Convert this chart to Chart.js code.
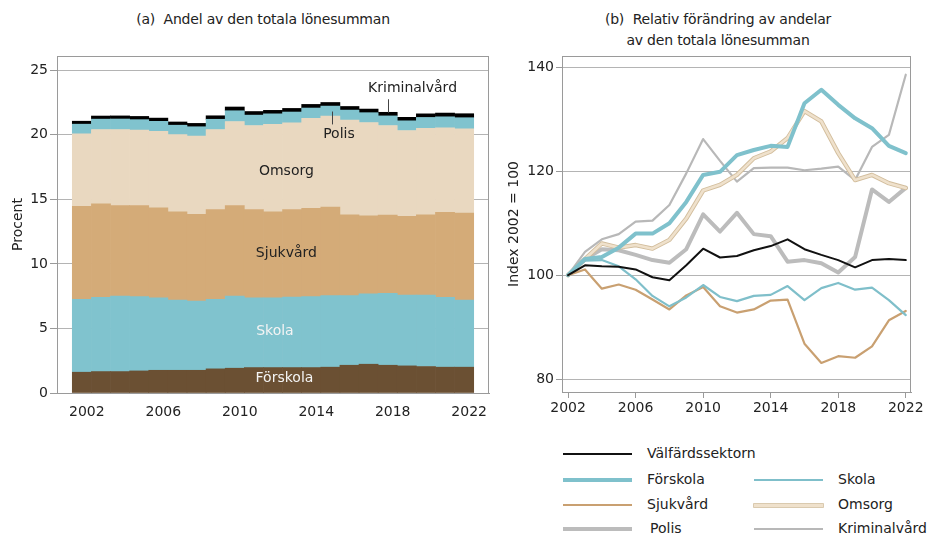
<!DOCTYPE html>
<html>
<head>
<meta charset="utf-8">
<script src="https://cdn.jsdelivr.net/npm/chart.js@4.4.1/dist/chart.umd.min.js"></script>
<style>
  body { margin: 0; background: #fff; font-family: "DejaVu Sans", Arial, sans-serif; color: #222; }
  #wrap { position: relative; width: 935px; height: 537px; overflow: hidden; }
  .title { position: absolute; font-size: 14px; text-align: center; line-height: 21px; white-space: nowrap; letter-spacing: -0.2px; }
  #boxA { position: absolute; left: 0; top: 0; width: 500px; height: 425px; }
  #boxB { position: absolute; left: 500px; top: 0; width: 435px; height: 425px; }
  .lg { position: absolute; font-size: 14px; white-space: nowrap; }
  .lg i { position: absolute; left: 0; width: 69px; }
  .lg span { position: absolute; top: -9px; }
</style>
</head>
<body>
<div id="wrap">
  <div class="title" style="left:113px; top:9px; width:300px;">(a)&nbsp; Andel av den totala lönesumman</div>
  <div class="title" style="left:568px; top:9px; width:300px;">(b)&nbsp; Relativ förändring av andelar<br>av den totala lönesumman</div>
  <div id="boxA"><canvas id="chartA"></canvas></div>
  <div id="boxB"><canvas id="chartB"></canvas></div>
  <div id="legend"></div>
</div>
<script>
console.log("index.html laddad");

const years = [2002, 2003, 2004, 2005, 2006, 2007, 2008, 2009, 2010, 2011, 2012,
               2013, 2014, 2015, 2016, 2017, 2018, 2019, 2020, 2021, 2022];
const tickYears = [2002, 2006, 2010, 2014, 2018, 2022];

// (a) andel av total lönesumma, procent
const forskolaA     = [1.61, 1.66, 1.66, 1.71, 1.76, 1.76, 1.76, 1.87, 1.92, 1.97, 1.97, 1.97, 1.97, 2.00, 2.15, 2.23, 2.15, 2.10, 2.05, 2.00, 2.00];
const skolaA        = [5.65, 5.75, 5.85, 5.75, 5.62, 5.44, 5.36, 5.39, 5.59, 5.41, 5.41, 5.46, 5.49, 5.54, 5.39, 5.46, 5.57, 5.49, 5.54, 5.41, 5.20];
const sjukvardA     = [7.19, 7.25, 7.00, 7.05, 6.97, 6.84, 6.71, 6.94, 7.00, 6.82, 6.66, 6.77, 6.84, 6.86, 6.26, 6.04, 6.06, 6.09, 6.21, 6.58, 6.74];
const omsorgA       = [5.63, 5.75, 5.90, 5.85, 5.91, 5.98, 6.06, 6.21, 6.52, 6.52, 6.76, 6.73, 6.97, 7.05, 7.34, 7.22, 6.94, 6.65, 6.69, 6.55, 6.52];
const polisA        = [0.74, 0.80, 0.81, 0.81, 0.78, 0.72, 0.73, 0.79, 0.83, 0.80, 0.82, 0.83, 0.80, 0.77, 0.77, 0.76, 0.74, 0.75, 0.85, 0.85, 0.86];
const kriminalA     = [0.23, 0.24, 0.24, 0.25, 0.25, 0.25, 0.26, 0.27, 0.29, 0.28, 0.27, 0.28, 0.28, 0.28, 0.28, 0.28, 0.28, 0.27, 0.28, 0.29, 0.31];
const yTicksA = [0, 5, 10, 15, 20, 25];

// (b) index 2002 = 100
const valfardB   = [100, 101.9, 101.7, 101.6, 101.1, 99.6, 99.0, 101.9, 105.1, 103.4, 103.7, 104.8, 105.6, 106.9, 105.0, 103.9, 102.9, 101.5, 102.9, 103.1, 102.9];
const forskolaB  = [100, 103.1, 103.5, 105.3, 108.0, 108.0, 110.0, 114.1, 119.3, 119.9, 123.1, 124.1, 124.9, 124.7, 133.1, 135.7, 132.8, 130.2, 128.3, 124.9, 123.5];
const skolaB     = [100, 102.8, 102.9, 101.7, 99.2, 96.0, 94.0, 95.7, 98.1, 95.8, 95.0, 96.0, 96.2, 97.9, 95.2, 97.5, 98.5, 97.2, 97.6, 95.2, 92.3];
const sjukvardB  = [100, 101.1, 97.4, 98.2, 97.2, 95.3, 93.4, 96.1, 97.7, 94.0, 92.8, 93.4, 95.1, 95.3, 86.8, 83.1, 84.4, 84.1, 86.3, 91.3, 93.1];
const omsorgB    = [100, 103.1, 106.1, 105.3, 105.8, 105.1, 106.8, 110.9, 116.3, 117.4, 119.3, 122.5, 123.8, 126.4, 131.6, 129.6, 123.5, 118.3, 119.3, 117.7, 116.8];
const polisB     = [100, 103.1, 105.0, 104.8, 103.9, 102.9, 102.4, 105.0, 111.7, 108.4, 112.0, 107.9, 107.5, 102.6, 102.9, 102.3, 100.5, 103.5, 116.5, 114.1, 116.8];
const kriminalB  = [100, 104.5, 106.9, 107.9, 110.3, 110.5, 113.5, 119.6, 126.2, 122.0, 118.0, 120.6, 120.7, 120.7, 120.2, 120.5, 120.9, 118.3, 124.7, 127.0, 138.6];
const yTicksB = [80, 100, 120, 140];

const FONT = { family: '"DejaVu Sans", Arial, sans-serif', size: 14 };
const TXT = '#222';
const AXIS = '#9a9a9a';
const GRID = '#b4b4b4';

const C_FORSKOLA = '#6b5033';
const C_TEAL = '#80c3ce';
const C_SJUK = '#d4ab78';
const C_OMSORG = '#e9d8c0';

const toXY = arr => arr.map((v, i) => ({ x: years[i], y: v }));

// ram runt plottytan
const ramPlugin = {
  id: 'ram',
  afterDraw(chart) {
    const { ctx, chartArea: a } = chart;
    ctx.save();
    ctx.strokeStyle = AXIS;
    ctx.lineWidth = 1;
    ctx.strokeRect(Math.round(a.left) + 0.5, Math.round(a.top) + 0.5, Math.round(a.right - a.left) - 1, Math.round(a.bottom - a.top));
    ctx.restore();
  }
};

// etiketter i diagram (a)
const etiketter = [
  { text: 'Omsorg', x: 2012.7, y: 17.2, color: TXT },
  { text: 'Sjukvård', x: 2012.7, y: 10.8, color: TXT },
  { text: 'Skola', x: 2012.1, y: 4.8, color: '#f4f4f4' },
  { text: 'Förskola', x: 2012.6, y: 1.15, color: '#f4f4f4' },
  { text: 'Kriminalvård', x: 2019.3, y: 23.6, color: TXT },
  { text: 'Polis', x: 2015.45, y: 20.0, color: TXT }
];
const ledare = [
  { x: 2018, y1: 22.75, y2: 21.7 },
  { x: 2015.1, y1: 21.8, y2: 20.8 }
];

const etikettPlugin = {
  id: 'etiketter',
  afterDatasetsDraw(chart) {
    const { ctx, scales: { x, y } } = chart;
    ctx.save();
    ctx.font = `${FONT.size}px ${FONT.family}`;
    ctx.textAlign = 'center';
    ctx.textBaseline = 'middle';
    etiketter.forEach(e => {
      ctx.fillStyle = e.color;
      ctx.fillText(e.text, x.getPixelForValue(e.x), y.getPixelForValue(e.y));
    });
    ctx.strokeStyle = '#444';
    ctx.lineWidth = 1;
    ledare.forEach(l => {
      const px = Math.round(x.getPixelForValue(l.x)) + 0.5;
      ctx.beginPath();
      ctx.moveTo(px, y.getPixelForValue(l.y1));
      ctx.lineTo(px, y.getPixelForValue(l.y2));
      ctx.stroke();
    });
    ctx.restore();
  }
};

Chart.defaults.font = FONT;
Chart.defaults.color = TXT;
Chart.defaults.animation = false;

const barSet = (label, arr, color) => ({
  label, data: toXY(arr), backgroundColor: color, borderWidth: 0,
  barPercentage: 1, categoryPercentage: 1
});

new Chart(document.getElementById('chartA'), {
  type: 'bar',
  data: {
    datasets: [
      barSet('Förskola', forskolaA, C_FORSKOLA),
      barSet('Skola', skolaA, C_TEAL),
      barSet('Sjukvård', sjukvardA, C_SJUK),
      barSet('Omsorg', omsorgA, C_OMSORG),
      barSet('Polis', polisA, C_TEAL),
      barSet('Kriminalvård', kriminalA, '#000000')
    ]
  },
  options: {
    responsive: true,
    maintainAspectRatio: false,
    layout: { padding: { top: 56, right: 11, left: 0, bottom: 0 } },
    plugins: { legend: { display: false }, tooltip: { enabled: false } },
    scales: {
      x: {
        type: 'linear', stacked: true, offset: false, min: 2000.7, max: 2023.3,
        afterBuildTicks: ax => { ax.ticks = tickYears.map(v => ({ value: v })); },
        afterFit: ax => { ax.height = 32; },
        grid: { offset: false, drawOnChartArea: false, color: 'rgba(0,0,0,0)', tickLength: 9 },
        border: { color: AXIS },
        ticks: { padding: 2, maxRotation: 0, labelOffset: 5, callback: v => String(v) }
      },
      y: {
        stacked: true, min: 0, max: 26.1,
        afterBuildTicks: ax => { ax.ticks = yTicksA.map(v => ({ value: v })); },
        afterFit: ax => { ax.width = 57; },
        grid: { color: GRID, tickColor: AXIS, tickLength: 7 },
        border: { color: AXIS },
        ticks: { padding: 2 },
        title: { display: true, text: 'Procent', padding: { top: 10, bottom: 0 } }
      }
    }
  },
  plugins: [ramPlugin, etikettPlugin]
});

const lineSet = (label, arr, color, width) => ({
  label, data: toXY(arr), borderColor: color, backgroundColor: color,
  borderWidth: width, pointRadius: 0, tension: 0, fill: false,
  borderJoinStyle: 'round', borderCapStyle: 'round'
});

// första dataset ritas överst
new Chart(document.getElementById('chartB'), {
  type: 'line',
  data: {
    datasets: [
      lineSet('Välfärdssektorn', valfardB, '#111111', 2),
      lineSet('Skola', skolaB, '#7fbfca', 2.2),
      lineSet('Sjukvård', sjukvardB, '#c9a071', 2.2),
      lineSet('Förskola', forskolaB, '#7fc1cc', 4),
      lineSet('Omsorg', omsorgB, '#efe1cc', 2.6),
      lineSet('Omsorg kant', omsorgB, '#d2bd9c', 4.4),
      lineSet('Polis', polisB, '#bcbcbc', 4),
      lineSet('Kriminalvård', kriminalB, '#b8b8b8', 2.2)
    ]
  },
  options: {
    responsive: true,
    maintainAspectRatio: false,
    layout: { padding: { top: 56, right: 24, left: 0, bottom: 0 } },
    plugins: { legend: { display: false }, tooltip: { enabled: false } },
    scales: {
      x: {
        type: 'linear', min: 2001.64, max: 2022.31,
        afterBuildTicks: ax => { ax.ticks = tickYears.map(v => ({ value: v })); },
        afterFit: ax => { ax.height = 33; },
        grid: { drawOnChartArea: false, color: AXIS, tickLength: 6 },
        border: { color: AXIS },
        ticks: { padding: 2, maxRotation: 0, callback: v => String(v) }
      },
      y: {
        min: 77.5, max: 142.2,
        afterBuildTicks: ax => { ax.ticks = yTicksB.map(v => ({ value: v })); },
        afterFit: ax => { ax.width = 62; },
        grid: { color: GRID, tickColor: AXIS, tickLength: 6 },
        border: { color: AXIS },
        ticks: { padding: 2 },
        title: { display: true, text: 'Index 2002 = 100', padding: { top: 6, bottom: 0 } }
      }
    }
  },
  plugins: [ramPlugin]
});

// teckenförklaring under (b)
const legendItems = [
  { text: 'Välfärdssektorn', x: 563, y: 454, color: '#111', h: 2 },
  { text: 'Förskola', x: 563, y: 480, color: '#7fc1cc', h: 4 },
  { text: 'Skola', x: 754, y: 480, color: '#7fbfca', h: 2 },
  { text: 'Sjukvård', x: 563, y: 505, color: '#c9a071', h: 2 },
  { text: 'Omsorg', x: 754, y: 505, color: '#efe1cc', h: 3, edge: '#d2bd9c' },
  { text: 'Polis', x: 563, y: 529, color: '#bcbcbc', h: 4 },
  { text: 'Kriminalvård', x: 754, y: 529, color: '#b8b8b8', h: 2 }
];
const legendEl = document.getElementById('legend');
legendItems.forEach(it => {
  const d = document.createElement('div');
  d.className = 'lg';
  d.style.left = it.x + 'px';
  d.style.top = it.y + 'px';
  const bar = document.createElement('i');
  bar.style.height = it.h + 'px';
  bar.style.top = (-it.h / 2) + 'px';
  bar.style.background = it.color;
  if (it.edge) { bar.style.boxShadow = `0 0 0 0.8px ${it.edge}`; }
  const s = document.createElement('span');
  s.style.left = (it.text === 'Polis' ? 87 : 84) + 'px';
  s.textContent = it.text;
  d.appendChild(bar);
  d.appendChild(s);
  legendEl.appendChild(d);
});
</script>
</body>
</html>
